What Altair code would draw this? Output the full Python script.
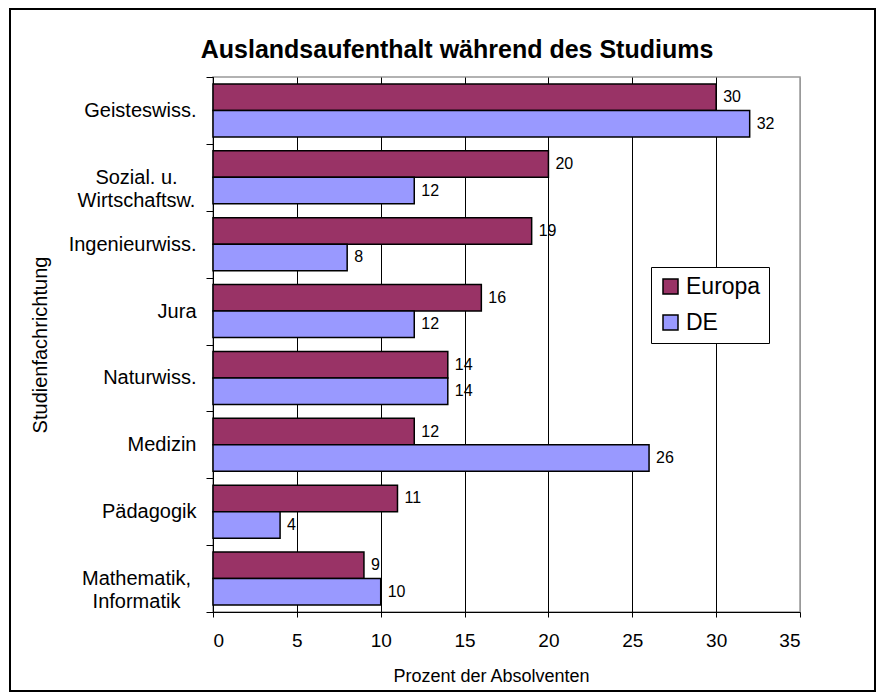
import altair as alt
import pandas as pd

categories = ["Geisteswiss.", "Sozial. u.\nWirtschaftsw.", "Ingenieurwiss.", "Jura",
              "Naturwiss.", "Medizin", "Pädagogik", "Mathematik,\nInformatik"]
europa = [30, 20, 19, 16, 14, 12, 11, 9]
de = [32, 12, 8, 12, 14, 26, 4, 10]
series = ["Europa", "DE"]
colors = ["#993366", "#9999FF"]
x_ticks = [0, 5, 10, 15, 20, 25, 30, 35]
title_text = "Auslandsaufenthalt während des Studiums"

rows = []
for c, e, d in zip(categories, europa, de):
    rows.append({"cat": c, "serie": "Europa", "val": e})
    rows.append({"cat": c, "serie": "DE", "val": d})
df = pd.DataFrame(rows)

FONT = "Liberation Sans"
MULTI = "indexof(datum.label, '\\n') >= 0"

y_enc = alt.Y("cat:N", sort=categories,
              scale=alt.Scale(paddingInner=0, paddingOuter=0),
              axis=alt.Axis(title="Studienfachrichtung", tickBand="extent",
                            labelExpr="split(datum.label, '\\n')",
                            labelAlign=alt.condition(MULTI, alt.value("center"), alt.value("right")),
                            labelPadding=alt.condition(MULTI, alt.value(70), alt.value(10)),
                            labelFontSize=20, labelLineHeight=23,
                            labelColor="black", tickColor="black", tickSize=7,
                            domainColor="black", titleFontSize=20, titleFontWeight="normal",
                            titleColor="black", titlePadding=18, grid=False,
                            labelFont=FONT, titleFont=FONT))
yoff = alt.YOffset("serie:N", sort=series, scale=alt.Scale(paddingOuter=0.264, paddingInner=0))
x_enc = alt.X("val:Q", scale=alt.Scale(domain=[0, 35], nice=False),
              axis=alt.Axis(title="Prozent der Absolventen", values=x_ticks,
                            labelFontSize=19, labelColor="black", labelPadding=14,
                            tickColor="black", tickSize=5, domainColor="black",
                            titleFontSize=18, titleFontWeight="normal", titleColor="black",
                            titlePadding=17, titleX=278, grid=True,
                            gridColor=alt.condition("datum.value == 35", alt.value("#999999"), alt.value("black")),
                            gridOpacity=1, labelFont=FONT, titleFont=FONT))

bars = alt.Chart(df).mark_bar(stroke="black", strokeWidth=1.5).encode(
    x=x_enc, y=y_enc, yOffset=yoff,
    color=alt.Color("serie:N", sort=series,
                    scale=alt.Scale(domain=series, range=colors),
                    legend=alt.Legend(title=None, orient="none", legendX=438, legendY=190,
                                      symbolType="square", symbolSize=225,
                                      symbolStrokeColor="black", symbolStrokeWidth=1.5,
                                      labelFontSize=23, labelFont=FONT, labelColor="black",
                                      padding=8, strokeColor="black", fillColor="white",
                                      rowPadding=12, labelOffset=4))
)

labels = alt.Chart(df).mark_text(align="left", baseline="middle", dx=7,
                                 fontSize=16, font=FONT, color="black").encode(
    x="val:Q", y=alt.Y("cat:N", sort=categories), yOffset=alt.YOffset("serie:N", sort=series),
    text="val:Q"
)

title = alt.Chart(alt.Data(values=[{"t": title_text}])).mark_text(
    align="center", baseline="middle", fontSize=25, font=FONT, fontWeight="bold", color="black"
).encode(x=alt.value(244), y=alt.value(-27), text="t:N")

border = alt.Chart(alt.Data(values=[{}])).mark_rect(fill=None, stroke="black", strokeWidth=2).encode(
    x=alt.value(-203), x2=alt.value(662), y=alt.value(-68), y2=alt.value(614)
)

chart = alt.layer(bars, labels, title, border).properties(
    width=587, height=535,
    autosize=alt.AutoSizeParams(type="none"),
    padding={"left": 205, "top": 69, "right": 76, "bottom": 80},
).configure_view(stroke="#999999", strokeWidth=1.5)

chart.save("out.html", embed_options={"renderer": "svg", "actions": False})
